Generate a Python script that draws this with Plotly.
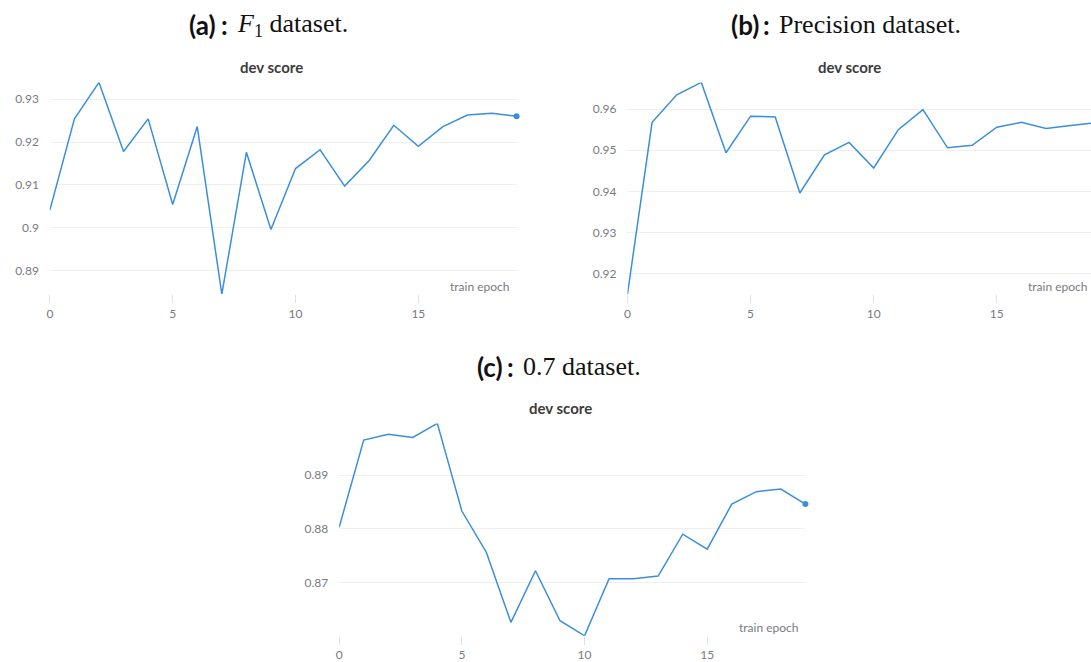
import plotly.graph_objects as go

W, H = 1091, 662

# ---------------- data ----------------
epochs = list(range(20))
f1_scores = [0.9041, 0.9254, 0.9339, 0.9178, 0.9254, 0.9054, 0.9236, 0.8845, 0.9176, 0.8996,
             0.9138, 0.9182, 0.9097, 0.9157, 0.9239, 0.9190, 0.9236, 0.9263, 0.9267, 0.9260]
precision_scores = [0.9150, 0.9568, 0.9635, 0.9665, 0.9494, 0.9583, 0.9581, 0.9396, 0.9489, 0.9519,
                    0.9457, 0.9550, 0.9599, 0.9506, 0.9512, 0.9556, 0.9568, 0.9553, 0.9560, 0.9567]
p07_scores = [0.8803, 0.8965, 0.8976, 0.8970, 0.8996, 0.8833, 0.8756, 0.8626, 0.8722, 0.8629,
              0.8601, 0.8707, 0.8707, 0.8712, 0.8790, 0.8762, 0.8846, 0.8869, 0.8874, 0.8846]

x_tickvals = [0, 5, 10, 15]
x_ticktext = ["0", "5", "10", "15"]
y_tickvals_a = [0.89, 0.90, 0.91, 0.92, 0.93]
y_ticktext_a = ["0.89", "0.9", "0.91", "0.92", "0.93"]
y_tickvals_b = [0.92, 0.93, 0.94, 0.95, 0.96]
y_ticktext_b = ["0.92", "0.93", "0.94", "0.95", "0.96"]
y_tickvals_c = [0.87, 0.88, 0.89]
y_ticktext_c = ["0.87", "0.88", "0.89"]

heading_tags = ["(a)", "(b)", "(c)"]
heading_texts = ["<i>F</i><sub>1</sub> dataset.", "Precision dataset.", "0.7 dataset."]
chart_title = "dev score"
x_title = "train epoch"

# ---------------- style ----------------
LINE = "#3a8fdc"
GRID = "#efefef"
TICKC = "#e0e0e0"
LABEL = "#7a7a82"
SANS = "Lato, 'Noto Sans', sans-serif"
SERIF = "'Liberation Serif', 'DejaVu Serif', serif"

# pixel boxes: left, right (where x=19 falls), top, bottom
panels = [
    dict(scores=f1_scores, yv=y_tickvals_a, yt=y_ticktext_a, left=47.0, right=515.0, top=82.7, bottom=295.0,
         head_y=25, tag_l=185, split=228, title_x=269, title_y=67, xt_right=509, xt_y=287),
    dict(scores=precision_scores, yv=y_tickvals_b, yt=y_ticktext_b, left=626.2, right=1095.3, top=82.7, bottom=295.0,
         head_y=25, tag_l=728, split=771, title_x=849, title_y=67, xt_right=1089, xt_y=287),
    dict(scores=p07_scores, yv=y_tickvals_c, yt=y_ticktext_c, left=337.1, right=804.6, top=424.7, bottom=637.7,
         head_y=368, tag_l=473, split=514, title_x=559, title_y=409, xt_right=799, xt_y=629),
]

fig = go.Figure()
annotations = []
layout_axes = {}

for i, p in enumerate(panels):
    n = i + 1
    xa = "x" if n == 1 else f"x{n}"
    ya = "y" if n == 1 else f"y{n}"
    right_vis = min(p["right"], W)
    xmax = epochs[-1] * (right_vis - p["left"]) / (p["right"] - p["left"])
    s = p["scores"]
    fig.add_trace(go.Scatter(x=epochs, y=s, mode="lines", line=dict(color=LINE, width=1.5),
                             xaxis=xa, yaxis=ya, showlegend=False, hoverinfo="skip", cliponaxis=False))
    fig.add_trace(go.Scatter(x=[epochs[-1]], y=[s[-1]], mode="markers", marker=dict(color=LINE, size=6),
                             xaxis=xa, yaxis=ya, showlegend=False, hoverinfo="skip", cliponaxis=False))
    layout_axes["xaxis" if n == 1 else f"xaxis{n}"] = dict(
        domain=[p["left"] / W, right_vis / W], range=[0, xmax], anchor=ya,
        tickvals=x_tickvals, ticktext=x_ticktext, showgrid=False, zeroline=False, showline=False,
        ticks="outside", ticklen=8, tickcolor=TICKC, tickwidth=1,
        tickfont=dict(family=SANS, size=12, color=LABEL),
    )
    layout_axes["yaxis" if n == 1 else f"yaxis{n}"] = dict(
        domain=[1 - p["bottom"] / H, 1 - p["top"] / H], range=[min(s), max(s)], anchor=xa,
        tickvals=p["yv"], ticktext=p["yt"], showgrid=True, gridcolor=GRID, gridwidth=1,
        zeroline=False, showline=False, ticks="", ticklabelstandoff=10,
        tickfont=dict(family=SANS, size=12, color=LABEL),
    )
    # heading: bold tag, colon, serif caption
    annotations.append(dict(text=f"<b>{heading_tags[i]}</b>", x=p["tag_l"] / W, y=1 - p["head_y"] / H,
                            xref="paper", yref="paper", xanchor="left", yanchor="middle", showarrow=False,
                            font=dict(family=SANS, size=26, color="#111111", weight=900)))
    annotations.append(dict(text="<b>:</b>", x=p["split"] / W, y=1 - p["head_y"] / H,
                            xref="paper", yref="paper", xanchor="right", yanchor="middle", showarrow=False,
                            font=dict(family=SANS, size=26, color="#111111", weight=900)))
    annotations.append(dict(text=heading_texts[i], x=(p["split"] + 5) / W, y=1 - p["head_y"] / H,
                            xref="paper", yref="paper", xanchor="left", yanchor="middle", showarrow=False,
                            font=dict(family=SERIF, size=26, color="#111111")))
    # chart title
    annotations.append(dict(text=f"<b>{chart_title}</b>", x=p["title_x"] / W, y=1 - p["title_y"] / H,
                            xref="paper", yref="paper", xanchor="center", yanchor="middle", showarrow=False,
                            font=dict(family=SANS, size=15, color="#3c3c3c")))
    # x title
    annotations.append(dict(text=x_title, x=p["xt_right"] / W, y=1 - p["xt_y"] / H,
                            xref="paper", yref="paper", xanchor="right", yanchor="middle", showarrow=False,
                            font=dict(family=SANS, size=12, color=LABEL)))

fig.update_layout(
    width=W, height=H, margin=dict(l=0, r=0, t=0, b=0),
    paper_bgcolor="white", plot_bgcolor="white",
    annotations=annotations, **layout_axes,
)

fig.write_html("out.html")
